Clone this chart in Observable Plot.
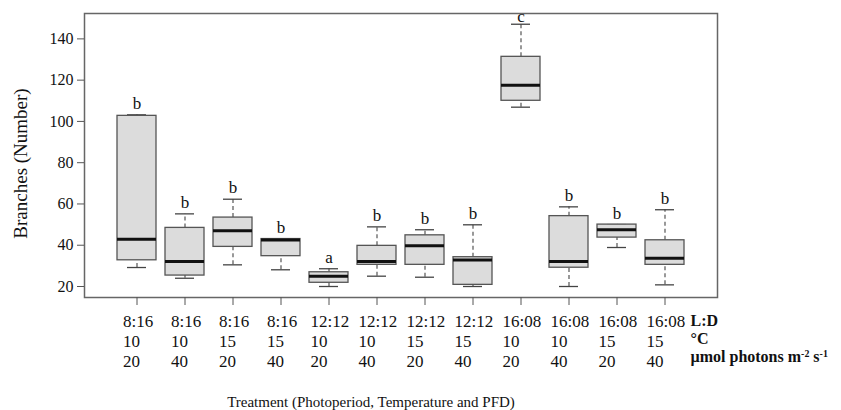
<!DOCTYPE html>
<html><head><meta charset="utf-8">
<script src="https://cdn.jsdelivr.net/npm/d3@7"></script>
<script src="https://cdn.jsdelivr.net/npm/@observablehq/plot@0.6"></script>
<style>body{margin:0;background:#fff}</style>
</head><body><div id="chart"></div>
<script>
const photoperiod = ["8:16","8:16","8:16","8:16","12:12","12:12","12:12","12:12","16:08","16:08","16:08","16:08"];
const temperature = [10,10,15,15,10,10,15,15,10,10,15,15];
const pfd = [20,40,20,40,20,40,20,40,20,40,20,40];
const whiskerLow  = [29.2, 24.0, 30.5, 28.1, 20.0, 25.0, 24.5, 20.0, 106.9, 20.0, 38.9, 20.8];
const q1          = [32.7, 25.3, 39.2, 34.7, 21.8, 30.5, 30.5, 20.8, 110.0, 29.1, 43.7, 30.5];
const median      = [42.9, 32.1, 47.0, 42.5, 25.0, 32.1, 39.7, 32.9, 117.5, 32.1, 47.5, 33.7];
const q3          = [102.7, 48.4, 53.4, 43.0, 26.9, 39.7, 44.8, 34.2, 131.3, 54.1, 50.0, 42.4];
const whiskerHigh = [103.2, 55.2, 62.3, 43.0, 28.6, 48.9, 47.5, 49.9, 147.1, 58.6, 50.0, 57.2];
const letters = ["b","b","b","b","a","b","b","b","c","b","b","b"];
const yTicks = [20,40,60,80,100,120,140];
const unitLabels = ["L:D","°C","µmol photons m-2 s-1"];
const yTitle = "Branches (Number)";
const xTitle = "Treatment (Photoperiod, Temperature and PFD)";

const rows = photoperiod.map((p,i)=>({
  key: `${p}\n${temperature[i]}\n${pfd[i]}`,
  lo: whiskerLow[i], q1: q1[i], med: median[i], q3: q3[i], hi: whiskerHigh[i], letter: letters[i]
}));

const serif = "'Liberation Serif','Times New Roman',serif";
const plot = Plot.plot({
  width: 841, height: 410,
  marginLeft: 84, marginTop: 13, marginRight: 124, marginBottom: 113,
  style: {fontFamily: serif, fontSize: "16px", color: "#111", background: "#fff"},
  x: {type: "band", domain: rows.map(d=>d.key), paddingInner: 0.185, paddingOuter: 0.59},
  y: {domain: [14.67, 152.3]},
  marks: [
    Plot.ruleX(rows, {x:"key", y1:"q3", y2:"hi", stroke:"#555", strokeWidth:1.2, strokeDasharray:"4,3"}),
    Plot.ruleX(rows, {x:"key", y1:"lo", y2:"q1", stroke:"#555", strokeWidth:1.2, strokeDasharray:"4,3"}),
    Plot.tickY(rows, {x:"key", y:"hi", insetLeft:10, insetRight:10, stroke:"#444", strokeWidth:1.3}),
    Plot.tickY(rows, {x:"key", y:"lo", insetLeft:10, insetRight:10, stroke:"#444", strokeWidth:1.3}),
    Plot.barY(rows, {x:"key", y1:"q1", y2:"q3", fill:"#dcdcdc", stroke:"#555", strokeWidth:1.3}),
    Plot.tickY(rows, {x:"key", y:"med", stroke:"#111", strokeWidth:3}),
    Plot.text(rows.filter(d=>d.letter!=="c"), {x:"key", y:"hi", text:"letter", lineAnchor:"bottom", dy:-6, fontSize:17, fill:"#111"}),
    Plot.text(rows.filter(d=>d.letter==="c"), {x:"key", y:"hi", text:"letter", lineAnchor:"bottom", dy:-2, fontSize:17, fill:"#111"}),
    Plot.frame({stroke:"#666", strokeWidth:1.5}),
    Plot.axisY({ticks: yTicks, tickSize:7, tickPadding:4, label:null, stroke:"#555", fill:"#111", fontSize:16}),
    Plot.axisX({tickSize:8, tickPadding:7, label:null, stroke:"#555", fill:"#111", fontSize:17, lineHeight:1.18, className:"xticks"}),
    Plot.text([unitLabels.join("\n")], {frameAnchor:"bottom-right", textAnchor:"start", lineAnchor:"top", dx:-27, dy:15, fontSize:16, fontWeight:"bold", lineHeight:1.15, fill:"#111", className:"units"}),
    Plot.text([yTitle], {frameAnchor:"left", textAnchor:"middle", lineAnchor:"middle", rotate:-90, dx:-64, dy:8, fontSize:19, fill:"#111"}),
    Plot.text([xTitle], {frameAnchor:"bottom", textAnchor:"middle", dx:-30, dy:105, lineAnchor:"middle", fontSize:15, fill:"#111"})
  ]
});
document.getElementById("chart").appendChild(plot);

// tick labels: first line centred on the tick, following lines left-aligned with it
d3.select(plot).selectAll(".xticks text").each(function(){
  const spans = this.querySelectorAll("tspan");
  if (!spans.length) return;
  const w = spans[0].getComputedTextLength();
  this.setAttribute("text-anchor", "start");
  spans.forEach(s => s.setAttribute("x", (-w/2 + 1).toFixed(1)));
});

// superscripts for the unit label
d3.select(plot).selectAll(".units tspan").each(function(){
  const t = this.textContent;
  const m = t.match(/^(.*m)-2 s-1$/);
  if (!m) return;
  const s = d3.select(this);
  this.textContent = "";
  s.append("tspan").text(m[1]);
  s.append("tspan").attr("baseline-shift","super").attr("font-size","0.62em").text("-2");
  s.append("tspan").text(" s");
  s.append("tspan").attr("baseline-shift","super").attr("font-size","0.62em").text("-1");
});
</script>
</body></html>
